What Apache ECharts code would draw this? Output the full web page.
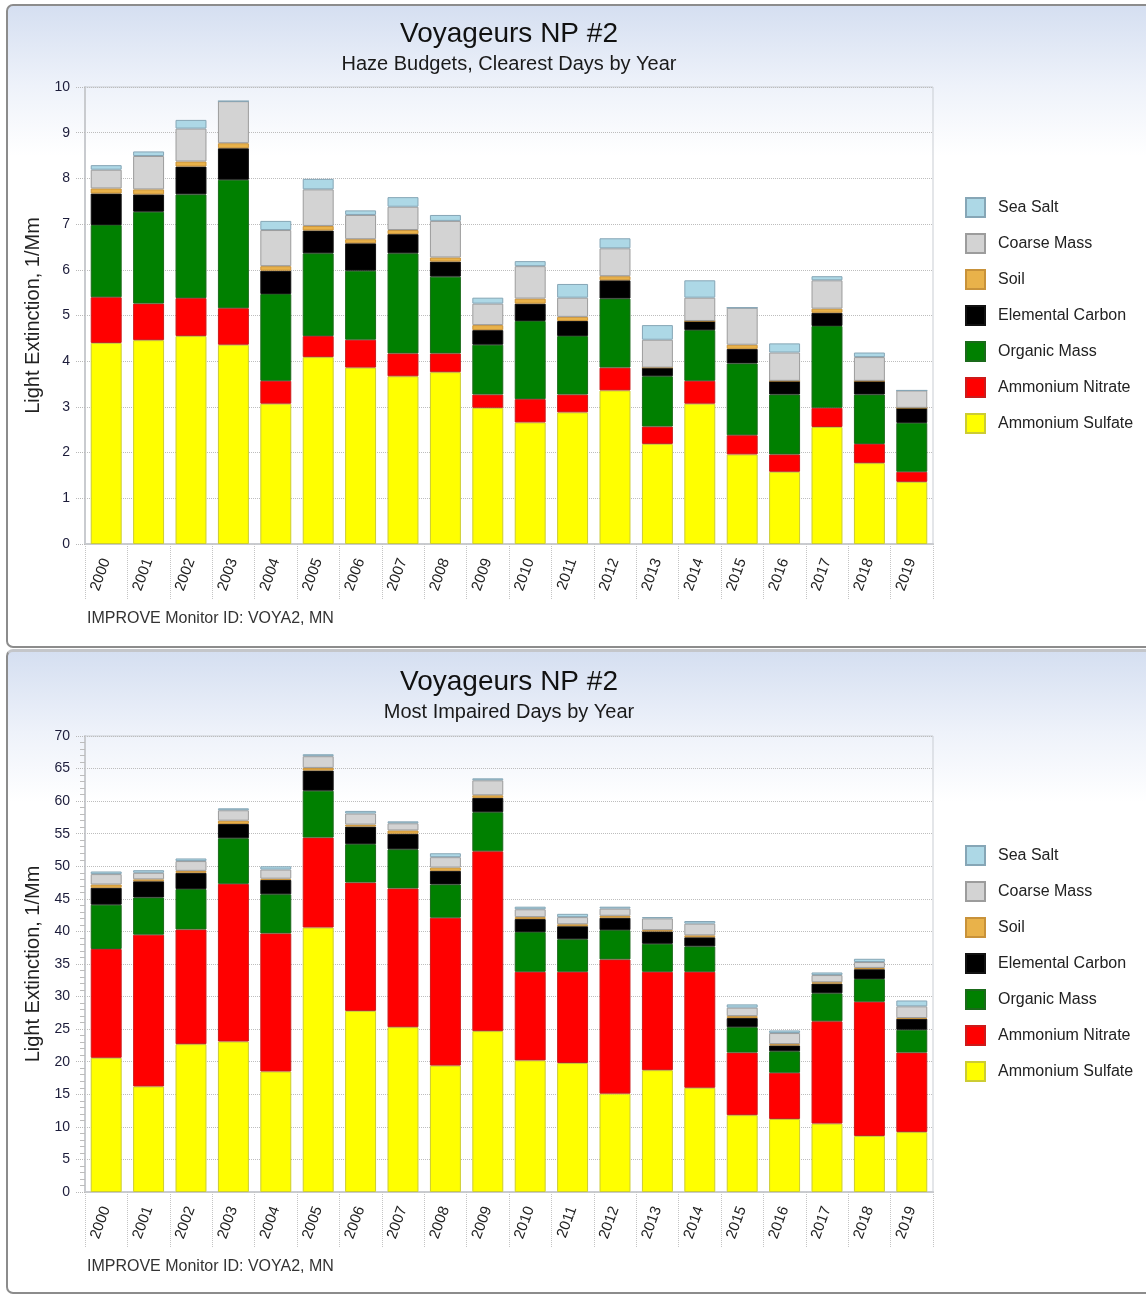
<!DOCTYPE html>
<html>
<head>
<meta charset="utf-8">
<script src="https://cdn.jsdelivr.net/npm/echarts@6/dist/echarts.min.js"></script>
<style>
  html, body { margin: 0; padding: 0; background: #fff; }
  body { width: 1146px; height: 1295px; position: relative; overflow: hidden; font-family: "Liberation Sans", Arial, sans-serif; }
  .panel {
    position: absolute;
    left: 6px;
    width: 1170px;
    border: 2px solid #8c8c8c;
    border-radius: 7px;
    background: linear-gradient(to bottom, #d5dff1 0px, #eef2fa 80px, #ffffff 150px, #ffffff 100%);
  }
  #p1 { top: 4px; height: 640px; }
  #p2 { top: 649px; height: 640px; border-top: 3px solid #c4c6ca; }
  .chart { position: absolute; left: 0; width: 1146px; }
  #c1 { top: 0; height: 648px; }
  #c2 { top: 648px; height: 647px; }
</style>
</head>
<body>
<div class="panel" id="p1"></div>
<div class="panel" id="p2"></div>
<div class="chart" id="c1"></div>
<div class="chart" id="c2"></div>

<script>
// categories
var years = ['2000','2001','2002','2003','2004','2005','2006','2007','2008','2009',
             '2010','2011','2012','2013','2014','2015','2016','2017','2018','2019']

// species, bottom of stack first
var species = ['Ammonium Sulfate','Ammonium Nitrate','Organic Mass','Elemental Carbon','Soil','Coarse Mass','Sea Salt']
var legendOrder = ['Sea Salt','Coarse Mass','Soil','Elemental Carbon','Organic Mass','Ammonium Nitrate','Ammonium Sulfate']
var fillColors = ['#ffff00','#ff0000','#008000','#000000','#e9b24a','#d3d3d3','#add8e6']
var edgeColors = ['#cccc33','#cc1a1a','#1a6a1a','#111111','#c8923a','#9c9c9c','#86a6b6']

// clearest days (1/Mm)
var clearSulfate = [4.4, 4.46, 4.55, 4.36, 3.07, 4.09, 3.86, 3.67, 3.76, 2.98, 2.66, 2.88, 3.36, 2.19, 3.07, 1.96, 1.58, 2.56, 1.77, 1.36]
var clearNitrate = [1.0, 0.8, 0.83, 0.8, 0.5, 0.46, 0.61, 0.5, 0.41, 0.29, 0.51, 0.39, 0.5, 0.38, 0.5, 0.42, 0.38, 0.42, 0.42, 0.22]
var clearOrganic = [1.58, 2.01, 2.27, 2.81, 1.9, 1.81, 1.51, 2.19, 1.68, 1.09, 1.71, 1.28, 1.51, 1.1, 1.11, 1.57, 1.31, 1.79, 1.08, 1.07]
var clearEC      = [0.69, 0.38, 0.61, 0.69, 0.51, 0.5, 0.6, 0.42, 0.33, 0.32, 0.38, 0.33, 0.4, 0.19, 0.2, 0.32, 0.3, 0.29, 0.3, 0.33]
var clearSoil    = [0.11, 0.11, 0.11, 0.11, 0.1, 0.1, 0.09, 0.09, 0.09, 0.11, 0.11, 0.09, 0.09, 0, 0, 0.09, 0, 0.09, 0, 0]
var clearCoarse  = [0.41, 0.73, 0.72, 0.92, 0.79, 0.8, 0.53, 0.51, 0.8, 0.47, 0.71, 0.42, 0.61, 0.61, 0.51, 0.81, 0.62, 0.62, 0.52, 0.38]
var clearSeaSalt = [0.1, 0.1, 0.19, 0, 0.2, 0.23, 0.1, 0.21, 0.13, 0.13, 0.11, 0.3, 0.22, 0.32, 0.38, 0, 0.2, 0.09, 0.1, 0]

// most impaired days (1/Mm)
var impSulfate = [20.6, 16.2, 22.7, 23.1, 18.5, 40.6, 27.8, 25.3, 19.4, 24.7, 20.2, 19.8, 15.1, 18.7, 16.0, 11.8, 11.2, 10.5, 8.6, 9.2]
var impNitrate = [16.7, 23.3, 17.6, 24.2, 21.2, 13.8, 19.7, 21.3, 22.7, 27.6, 13.6, 14.0, 20.6, 15.1, 17.8, 9.6, 7.1, 15.7, 20.6, 12.2]
var impOrganic = [6.8, 5.7, 6.2, 7.0, 6.0, 7.2, 5.9, 6.0, 5.1, 6.0, 6.1, 5.0, 4.5, 4.3, 3.9, 3.9, 3.3, 4.3, 3.5, 3.5]
var impEC      = [2.6, 2.5, 2.5, 2.2, 2.2, 3.1, 2.7, 2.4, 2.1, 2.2, 2.0, 2.0, 1.9, 1.9, 1.4, 1.4, 0.9, 1.5, 1.5, 1.7]
var impSoil    = [0.5, 0.3, 0.3, 0.5, 0.2, 0.4, 0.3, 0.5, 0.5, 0.4, 0.3, 0.3, 0.3, 0.2, 0.3, 0.3, 0.2, 0.2, 0.2, 0.1]
var impCoarse  = [1.6, 1.0, 1.5, 1.6, 1.4, 1.8, 1.7, 1.1, 1.6, 2.3, 1.2, 1.1, 1.1, 1.8, 1.8, 1.3, 1.7, 1.1, 0.9, 1.8]
var impSeaSalt = [0.4, 0.4, 0.4, 0.3, 0.5, 0.3, 0.4, 0.3, 0.6, 0.3, 0.4, 0.5, 0.3, 0.2, 0.4, 0.5, 0.4, 0.4, 0.5, 0.9]

var FONT = '"Liberation Sans", Arial, sans-serif'

function buildOption(subtitle, stacks, yMax, yStep, minor) {
  return {
    animation: false,
    textStyle: { fontFamily: FONT },
    title: {
      text: 'Voyageurs NP #2',
      subtext: subtitle,
      left: 509,
      top: 20,
      textAlign: 'center',
      padding: 0,
      itemGap: 6,
      textStyle: { fontSize: 28, fontWeight: 'normal', color: '#111', fontFamily: FONT },
      subtextStyle: { fontSize: 20, color: '#1a1a1a', fontFamily: FONT }
    },
    legend: {
      orient: 'vertical',
      left: 965,
      top: 197,
      padding: 0,
      icon: 'rect',
      itemWidth: 19,
      itemHeight: 19,
      itemGap: 15,
      data: legendOrder,
      selectedMode: false,
      textStyle: { fontSize: 16, color: '#222', padding: [0, 0, 0, 8], fontFamily: FONT }
    },
    grid: { left: 85, right: 213, top: 87, bottom: 104, show: true, borderColor: '#c9cdd3', borderWidth: 1 },
    graphic: [{
      type: 'text',
      left: 87,
      top: 611,
      style: { text: 'IMPROVE Monitor ID: VOYA2, MN', fontSize: 16, fill: '#333', fontFamily: FONT }
    }],
    xAxis: {
      type: 'category',
      data: years,
      axisLine: { lineStyle: { color: '#c9cbcf', width: 2 } },
      axisTick: { show: true, length: 56, lineStyle: { color: '#c4c4c4', type: 'dotted' } },
      axisLabel: { rotate: 70, margin: 15, fontSize: 15, color: '#222', fontFamily: FONT }
    },
    yAxis: {
      type: 'value',
      min: 0,
      max: yMax,
      interval: yStep,
      name: 'Light Extinction, 1/Mm',
      nameLocation: 'middle',
      nameGap: 40,
      nameTextStyle: { fontSize: 20, color: '#222', fontFamily: FONT },
      axisLine: { show: true, lineStyle: { color: '#c9cbcf', width: 2 } },
      axisTick: { show: true, length: 9, lineStyle: { color: '#b8b8b8', type: 'dotted' } },
      minorTick: { show: minor, splitNumber: 5, length: 5, lineStyle: { color: '#bcbcbc' } },
      axisLabel: { margin: 15, fontSize: 14, color: '#1c1c3a', fontFamily: FONT },
      splitLine: { lineStyle: { color: '#bdbdbd', type: 'dotted' } }
    },
    series: species.map(function (name, i) {
      return {
        name: name,
        type: 'bar',
        stack: 'haze',
        barCategoryGap: '27%',
        data: stacks[i],
        itemStyle: { color: fillColors[i], borderColor: edgeColors[i], borderWidth: 1 }
      }
    })
  }
}

var c1 = echarts.init(document.getElementById('c1'))
c1.setOption(buildOption('Haze Budgets, Clearest Days by Year',
  [clearSulfate, clearNitrate, clearOrganic, clearEC, clearSoil, clearCoarse, clearSeaSalt], 10, 1, false))

var c2 = echarts.init(document.getElementById('c2'))
var opt2 = buildOption('Most Impaired Days by Year',
  [impSulfate, impNitrate, impOrganic, impEC, impSoil, impCoarse, impSeaSalt], 70, 5, true)
opt2.grid.top = 88
opt2.grid.bottom = 103
c2.setOption(opt2)
</script>
</body>
</html>
